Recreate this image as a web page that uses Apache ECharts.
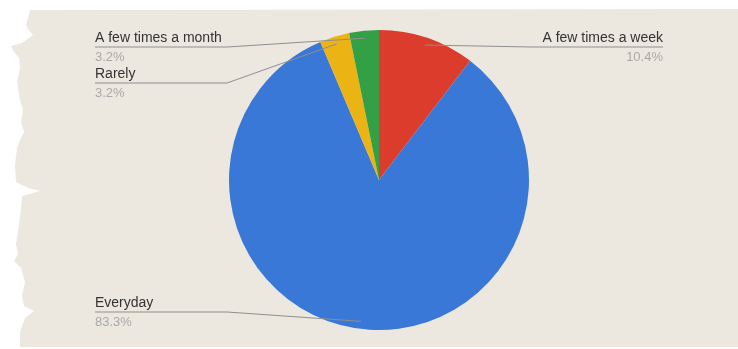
<!DOCTYPE html>
<html><head><meta charset="utf-8">
<script src="https://cdn.jsdelivr.net/npm/echarts@6/dist/echarts.min.js"></script>
<style>
html,body{margin:0;padding:0;background:#fff;width:738px;height:349px;overflow:hidden}
#paper{position:absolute;left:0;top:0;width:738px;height:349px;background:#ece8df;
clip-path:polygon(30px 10px,738px 9px,738px 347px,20px 347px,20px 332px,25px 318px,34px 311px,24px 306px,22px 296px,25px 282px,21px 268px,14px 261px,18px 254px,16px 244px,19px 225px,21px 208px,22px 196px,40px 191px,28px 188px,16px 182px,15px 165px,17px 148px,20px 140px,24px 132px,21px 122px,23px 110px,20px 100px,17px 82px,20px 68px,19px 58px,14px 52px,11px 46px,22px 43px,33px 35px,28px 29px,26px 25px,28px 18px)}
#chart{position:absolute;left:0;top:0;width:738px;height:349px}
</style></head><body>
<div id="paper"></div><div id="chart"></div>
<script>
// ---- data ----
const categories = ['A few times a week', 'Everyday', 'Rarely', 'A few times a month'];
const percentValues = [10.4, 83.3, 3.2, 3.2];
const sliceColors = ['#dc3c2c', '#3a78d8', '#ebb414', '#34a046'];

// ---- layout ----
const CX = 379, CY = 180, R = 150;
const labelLineY = [47, 312, 83, 47];
const LEFT_X = 95, RIGHT_X = 663, BEND = 132;
const FONT = '"Liberation Sans", Arial, sans-serif';

const chart = echarts.init(document.getElementById('chart'), null, {renderer: 'canvas'});
const base = {
  type: 'pie',
  center: [CX, CY],
  radius: R,
  startAngle: 90,
  clockwise: true,
  avoidLabelOverlap: false,
  silent: true,
  emphasis: {disabled: true}
};
chart.setOption({
  animation: false,
  series: [
    Object.assign({}, base, {
      z: 2,
      data: categories.map((c, i) => ({name: c, value: percentValues[i], itemStyle: {color: sliceColors[i]}})),
      label: {show: false},
      labelLine: {show: false}
    }),
    Object.assign({}, base, {
      z: 5,
      data: categories.map((c, i) => ({name: c, value: percentValues[i], itemStyle: {color: 'rgba(0,0,0,0)'}})),
      label: {
        show: true,
        position: 'outside',
        formatter: p => '{n|' + p.name + '}\n{p|' + p.value.toFixed(1) + '%}',
        rich: {
          n: {fontFamily: FONT, fontSize: 14, lineHeight: 21, color: '#333'},
          p: {fontFamily: FONT, fontSize: 13, lineHeight: 16, color: '#a9a9a9'}
        }
      },
      labelLine: {show: true, lineStyle: {color: '#8f8f8f', width: 1}},
      labelLayout: function (params) {
        const i = params.dataIndex;
        const e = params.labelLinePoints[0];
        const s = [CX + 0.95 * (e[0] - CX), CY + 0.95 * (e[1] - CY)];
        const ly = labelLineY[i];
        if (e[0] < CX) {
          return {x: LEFT_X, y: ly - 19, align: 'left', verticalAlign: 'top',
            labelLinePoints: [s, [LEFT_X + BEND, ly], [LEFT_X, ly]]};
        }
        return {x: RIGHT_X, y: ly - 19, align: 'right', verticalAlign: 'top',
          labelLinePoints: [s, [RIGHT_X - BEND, ly], [RIGHT_X, ly]]};
      }
    })
  ]
});
</script>
</body></html>
